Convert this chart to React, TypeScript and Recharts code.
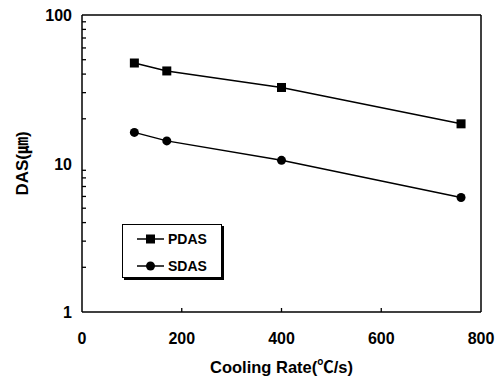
import React from "react";
import {
  LineChart,
  Line,
  XAxis,
  YAxis,
  Legend,
  ReferenceLine,
} from "recharts";

// values
const coolingRate = [105, 170, 400, 760];
const pdas = [47.5, 42, 32.5, 18.5];
const sdas = [16.2, 14.2, 10.5, 5.9];

const xTicks = [0, 200, 400, 600, 800];
const yTicks = [1, 2, 3, 4, 5, 6, 7, 8, 9, 10, 20, 30, 40, 50, 60, 70, 80, 90, 100];
const yLabels = [1, 10, 100];

const data = coolingRate.map((x, i) => ({ x, PDAS: pdas[i], SDAS: sdas[i] }));

const FONT = "'Liberation Sans', Arial, 'Noto Sans CJK JP', sans-serif";

const renderYTick = (props: any) => {
  const x = Number(props.x);
  const y = Number(props.y);
  const v = props.payload.value;
  const major = yLabels.includes(v);
  return (
    <g key={`yt-${v}`}>
      {!major && <path d={`M${x},${y}H${x + 4}`} stroke="#000" strokeWidth={1.3} fill="none" />}
      {major && (
        <text x={x - 10} y={y} dy={6} textAnchor="end" fontSize={16} fontWeight="bold" fill="#000" fontFamily={FONT}>
          {v}
        </text>
      )}
    </g>
  );
};

const renderXTick = (props: any) => {
  const x = Number(props.x);
  const y = Number(props.y);
  const v = props.payload.value;
  const inner = v > 0 && v < 800;
  return (
    <g key={`xt-${v}`}>
      {inner && <path d={`M${x},${y}V${y - 4}`} stroke="#000" strokeWidth={1.3} fill="none" />}
      <text x={x} y={y + 32} textAnchor="middle" fontSize={16} fontWeight="bold" fill="#000" fontFamily={FONT}>
        {v}
      </text>
    </g>
  );
};

const SquareDot = (props: any) => {
  const { cx, cy, index } = props;
  return <rect key={`sq-${index}`} x={cx - 4.5} y={cy - 4.5} width={9} height={9} fill="#000" />;
};

const CircleDot = (props: any) => {
  const { cx, cy, index } = props;
  return <circle key={`ci-${index}`} cx={cx} cy={cy} r={4.5} fill="#000" />;
};

const LegendBox = () => (
  <div
    style={{
      width: 98,
      height: 52,
      border: "1px solid #000",
      boxShadow: "2px 2px 0 #000",
      background: "#fff",
      position: "relative",
      fontFamily: FONT,
      fontWeight: "bold",
      fontSize: 14,
    }}
  >
    {[
      { name: "PDAS", top: 6, square: true },
      { name: "SDAS", top: 33, square: false },
    ].map((it) => (
      <div key={it.name} style={{ position: "absolute", left: 14, top: it.top, display: "flex", alignItems: "center" }}>
        <svg width={28} height={16}>
          <line x1={0} x2={27} y1={8} y2={8} stroke="#000" strokeWidth={1.5} />
          {it.square ? <rect x={9} y={3.5} width={9} height={9} fill="#000" /> : <circle cx={13.5} cy={8} r={4.5} fill="#000" />}
        </svg>
        <span style={{ marginLeft: 3, lineHeight: "16px" }}>{it.name}</span>
      </div>
    ))}
  </div>
);

const xTitle = (props: any) => {
  const { x, y, width } = props.viewBox;
  return (
    <text x={x + width / 2} y={y + 61} textAnchor="middle" fontSize={16.5} fontWeight="bold" fill="#000" fontFamily={FONT}>
      Cooling Rate(℃/s)
    </text>
  );
};

const yTitle = (props: any) => {
  const { y, height } = props.viewBox;
  const cx = 22;
  const cy = y + height / 2;
  return (
    <text
      x={cx}
      y={cy}
      dy={6}
      textAnchor="middle"
      transform={`rotate(-90, ${cx}, ${cy})`}
      fontSize={17}
      fontWeight="bold"
      fill="#000"
      fontFamily={FONT}
    >
      DAS(㎛)
    </text>
  );
};

export default function App() {
  return (
    <div style={{ position: "absolute", left: 0, top: 0, width: 503, height: 378, background: "#fff" }}>
      <LineChart width={503} height={378} data={data} margin={{ top: 15, right: 22, left: 0, bottom: 0 }}>
        <XAxis
          dataKey="x"
          type="number"
          domain={[0, 800]}
          ticks={xTicks}
          interval={0}
          height={66}
          tickSize={0}
          tickMargin={0}
          tick={renderXTick}
          stroke="#000"
          strokeWidth={1.5}
          label={xTitle}
        />
        <YAxis
          scale="log"
          domain={[1, 100]}
          ticks={yTicks}
          interval={0}
          width={82}
          tickSize={0}
          tickMargin={0}
          tick={renderYTick}
          stroke="#000"
          strokeWidth={1.5}
          allowDataOverflow
          label={yTitle}
        />
        <ReferenceLine x={800} stroke="#000" strokeWidth={1.5} />
        <ReferenceLine y={100} stroke="#000" strokeWidth={1.5} />
        <Legend
          layout="vertical"
          align="center"
          verticalAlign="middle"
          content={<LegendBox />}
          wrapperStyle={{ position: "absolute", left: 122, top: 224, width: "auto" }}
        />
        <Line
          dataKey="PDAS"
          stroke="#000"
          strokeWidth={1.5}
          dot={<SquareDot />}
          isAnimationActive={false}
        />
        <Line
          dataKey="SDAS"
          stroke="#000"
          strokeWidth={1.5}
          dot={<CircleDot />}
          isAnimationActive={false}
        />
      </LineChart>
    </div>
  );
}
